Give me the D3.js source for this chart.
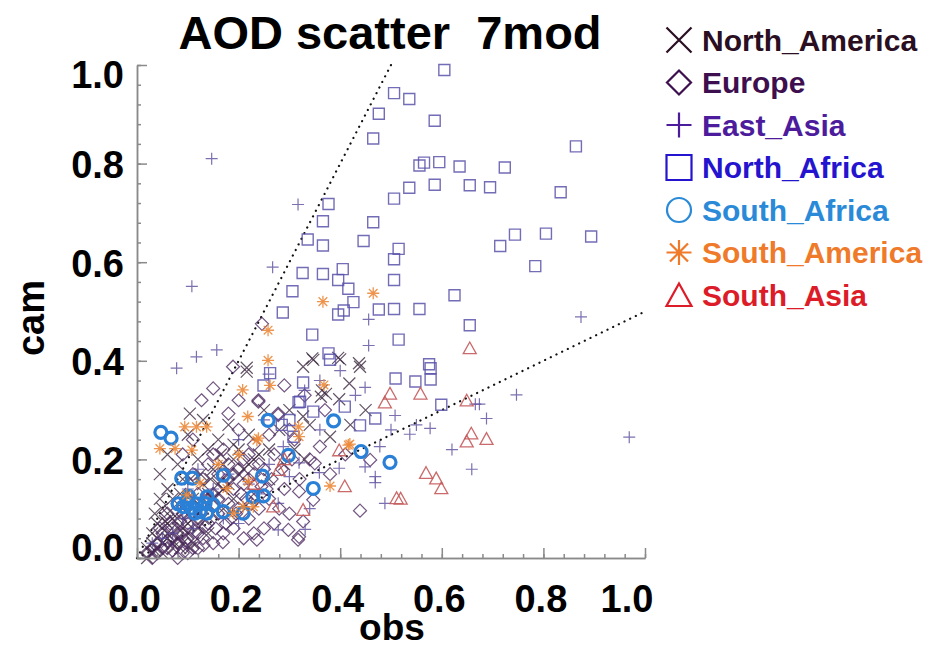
<!DOCTYPE html>
<html>
<head>
<meta charset="utf-8">
<script src="https://cdn.jsdelivr.net/npm/d3@7"></script>
<style>
  html, body { margin: 0; padding: 0; background: #fff; }
  svg { display: block; }
  text { font-family: "Liberation Sans", Arial, Helvetica, sans-serif; font-weight: bold; }
</style>
</head>
<body>
<svg id="chart" width="933" height="650"></svg>
<script>
// Region names in legend order
const regions = ["North_America", "Europe", "East_Asia", "North_Africa", "South_Africa", "South_America", "South_Asia"];

// Paired AOD values per region: [obs, cam]
const northAmerica = [
  [0.400,0.403],[0.439,0.388],[0.418,0.354],[0.398,0.322],[0.362,0.327],[0.347,0.402],[0.327,0.388],
  [0.380,0.246],[0.327,0.287],[0.345,0.405],[0.396,0.406],[0.437,0.395],[0.216,0.386],[0.216,0.378],
  [0.104,0.293],[0.364,0.340],[0.372,0.333],[0.30,0.30],[0.28,0.26],[0.25,0.30],[0.26,0.22],[0.22,0.25],
  [0.20,0.22],[0.18,0.27],[0.16,0.24],[0.14,0.22],[0.12,0.20],[0.10,0.25],[0.13,0.28],[0.08,0.19],
  [0.06,0.14],[0.05,0.10],[0.04,0.07],[0.03,0.05],[0.02,0.02],[0.03,0.01],[0.05,0.03],[0.06,0.05],
  [0.07,0.08],[0.08,0.06],[0.09,0.10],[0.10,0.07],[0.11,0.12],[0.12,0.09],[0.13,0.15],[0.14,0.11],
  [0.15,0.18],[0.16,0.13],[0.17,0.19],[0.18,0.15],[0.19,0.20],[0.20,0.17],[0.22,0.19],[0.24,0.21],
  [0.05,0.01],[0.07,0.02],[0.09,0.03],[0.04,0.04],[0.06,0.07],[0.08,0.04],[0.10,0.05],[0.12,0.06],
  [0.11,0.03],[0.13,0.08],[0.15,0.09],[0.17,0.10],[0.14,0.05],[0.31,0.22],[0.34,0.27],[0.29,0.19],
  [0.26,0.16],[0.23,0.13],[0.19,0.12],[0.33,0.20],[0.45,0.30],[0.42,0.27],[0.07,0.12],[0.09,0.16],
  [0.045,0.17],[0.06,0.21],[0.045,0.12],[0.035,0.09],
  [0.02,0.00],[0.03,0.03],[0.04,0.02],[0.05,0.06],[0.06,0.04],[0.07,0.03],[0.08,0.08],[0.09,0.06],
  [0.10,0.09],[0.11,0.08],[0.12,0.11],[0.13,0.10],[0.14,0.13],[0.15,0.12],[0.16,0.15],[0.17,0.14],
  [0.18,0.17],[0.065,0.095],[0.085,0.13],[0.105,0.16],[0.125,0.17],[0.145,0.16],[0.165,0.21],
  [0.19,0.23],[0.21,0.18],[0.23,0.20],[0.085,0.02],[0.105,0.02],[0.035,0.015],[0.055,0.075]
];
const europe = [
  [0.246,0.475],[0.189,0.388],[0.150,0.344],[0.127,0.320],[0.180,0.293],[0.239,0.317],[0.278,0.290],
  [0.239,0.320],[0.278,0.293],[0.459,0.199],[0.439,0.096],[0.319,0.135],[0.347,0.118],[0.327,0.074],
  [0.298,0.057],[0.319,0.043],[0.360,0.226],[0.350,0.192],[0.236,0.037],[0.317,0.037],[0.169,0.032],
  [0.131,0.026],[0.30,0.26],[0.31,0.24],[0.27,0.21],[0.26,0.25],[0.25,0.18],[0.23,0.23],[0.22,0.16],
  [0.21,0.20],[0.20,0.26],[0.19,0.14],[0.18,0.19],[0.17,0.22],[0.16,0.17],[0.15,0.21],[0.14,0.19],
  [0.13,0.16],[0.12,0.13],[0.11,0.17],[0.10,0.12],[0.09,0.09],[0.08,0.11],[0.07,0.06],[0.06,0.09],
  [0.05,0.05],[0.04,0.03],[0.03,0.02],[0.02,0.01],[0.06,0.02],[0.08,0.03],[0.10,0.04],[0.12,0.05],
  [0.14,0.07],[0.16,0.09],[0.18,0.11],[0.20,0.10],[0.22,0.08],[0.24,0.10],[0.26,0.12],[0.28,0.10],
  [0.27,0.07],[0.25,0.06],[0.23,0.05],[0.21,0.04],[0.19,0.06],[0.17,0.05],[0.15,0.03],[0.13,0.04],
  [0.11,0.02],[0.09,0.01],[0.07,0.015],[0.32,0.16],[0.34,0.20],[0.29,0.14],[0.37,0.30],[0.33,0.33],
  [0.29,0.35],[0.20,0.32],[0.11,0.24],[0.09,0.21],[0.30,0.09],[0.38,0.17],[0.41,0.21],[0.245,0.145],
  [0.215,0.12],[0.185,0.08],
  [0.03,0.00],[0.04,0.01],[0.05,0.02],[0.06,0.035],[0.07,0.04],[0.08,0.05],[0.09,0.05],[0.10,0.07],
  [0.11,0.09],[0.12,0.08],[0.13,0.10],[0.14,0.12],[0.15,0.13],[0.16,0.12],[0.17,0.15],[0.18,0.16],
  [0.19,0.17],[0.20,0.18],[0.21,0.15],[0.22,0.21],[0.23,0.17],[0.24,0.19],[0.08,0.00],[0.10,0.01],
  [0.12,0.02],[0.045,0.06],[0.065,0.07],[0.085,0.075],[0.095,0.035],[0.115,0.055],[0.135,0.065],
  [0.155,0.06],[0.175,0.07],[0.195,0.09],[0.205,0.13],[0.225,0.11],[0.255,0.14],[0.265,0.16],
  [0.285,0.18],[0.305,0.20]
];
const eastAsia = [
  [0.147,0.810],[0.317,0.717],[0.267,0.590],[0.108,0.551],[0.456,0.484],[0.456,0.431],[0.874,0.489],
  [0.117,0.408],[0.157,0.422],[0.078,0.385],[0.449,0.346],[0.747,0.331],[0.674,0.312],[0.666,0.312],
  [0.688,0.283],[0.508,0.289],[0.577,0.263],[0.537,0.251],[0.478,0.226],[0.969,0.245],[0.659,0.180],
  [0.469,0.165],[0.469,0.153],[0.398,0.182],[0.449,0.185],[0.488,0.111],[0.319,0.193],[0.359,0.173],
  [0.259,0.373],[0.288,0.226],[0.300,0.165],[0.278,0.111],[0.278,0.057],[0.331,0.058],[0.20,0.24],
  [0.18,0.17],[0.15,0.14],[0.13,0.12],[0.12,0.18],[0.10,0.14],[0.09,0.08],[0.07,0.05],[0.05,0.04],
  [0.22,0.15],[0.24,0.13],[0.26,0.19],[0.25,0.28],[0.33,0.34],[0.36,0.36],[0.40,0.38],[0.43,0.33],
  [0.50,0.26],[0.55,0.27],[0.62,0.22],[0.17,0.08],[0.11,0.06],[0.20,0.07],[0.36,0.26],[0.34,0.10],
  [0.03,0.03]
];
const northAfrica = [
  [0.605,0.990],[0.506,0.943],[0.536,0.931],[0.476,0.901],[0.586,0.887],[0.465,0.851],[0.864,0.835],
  [0.556,0.796],[0.565,0.802],[0.595,0.803],[0.635,0.794],[0.724,0.792],[0.536,0.751],[0.586,0.757],
  [0.655,0.756],[0.695,0.752],[0.834,0.742],[0.506,0.729],[0.377,0.718],[0.366,0.683],[0.465,0.681],
  [0.336,0.646],[0.366,0.634],[0.446,0.643],[0.515,0.627],[0.506,0.606],[0.715,0.633],[0.744,0.656],
  [0.805,0.658],[0.894,0.652],[0.784,0.592],[0.326,0.578],[0.366,0.576],[0.405,0.586],[0.396,0.564],
  [0.416,0.546],[0.306,0.541],[0.506,0.564],[0.426,0.519],[0.287,0.498],[0.396,0.494],[0.407,0.502],
  [0.476,0.504],[0.506,0.505],[0.556,0.505],[0.625,0.533],[0.655,0.472],[0.345,0.453],[0.515,0.443],
  [0.377,0.415],[0.575,0.393],[0.249,0.350],[0.327,0.356],[0.509,0.364],[0.548,0.358],[0.578,0.385],
  [0.578,0.362],[0.318,0.316],[0.347,0.297],[0.409,0.307],[0.439,0.269],[0.469,0.283],[0.599,0.311],
  [0.321,0.317],[0.308,0.246],[0.285,0.270],[0.380,0.402],[0.262,0.375],[0.300,0.280]
];
const southAfrica = [
  [0.047,0.255],[0.067,0.243],[0.258,0.279],[0.387,0.278],[0.298,0.208],[0.441,0.216],[0.498,0.194],
  [0.088,0.162],[0.109,0.162],[0.170,0.168],[0.247,0.166],[0.347,0.141],[0.228,0.124],[0.249,0.126],
  [0.209,0.091],[0.170,0.094],[0.081,0.110],[0.099,0.111],[0.117,0.110],[0.134,0.111],[0.138,0.124],
  [0.124,0.094],[0.108,0.101],[0.091,0.104],[0.150,0.108],[0.137,0.091],[0.114,0.091],[0.102,0.125]
];
const southAmerica = [
  [0.258,0.462],[0.366,0.520],[0.465,0.537],[0.258,0.401],[0.208,0.341],[0.368,0.351],[0.218,0.287],
  [0.137,0.266],[0.117,0.266],[0.094,0.266],[0.045,0.222],[0.075,0.222],[0.108,0.219],[0.239,0.243],
  [0.318,0.266],[0.416,0.229],[0.380,0.146],[0.219,0.155],[0.177,0.141],[0.098,0.128],[0.209,0.104],
  [0.190,0.091],[0.124,0.152],[0.319,0.246],[0.236,0.239],[0.419,0.231],[0.229,0.104],[0.262,0.350],
  [0.160,0.190],[0.200,0.210]
];
const southAsia = [
  [0.655,0.425],[0.498,0.333],[0.488,0.315],[0.558,0.333],[0.649,0.319],[0.658,0.252],[0.649,0.236],
  [0.688,0.241],[0.569,0.172],[0.589,0.161],[0.599,0.141],[0.519,0.120],[0.409,0.145],[0.398,0.218],
  [0.279,0.178],[0.327,0.097],[0.268,0.104],[0.511,0.121],[0.290,0.200],[0.230,0.150]
];

const seriesData = [northAmerica, europe, eastAsia, northAfrica, southAfrica, southAmerica, southAsia];

// Axis ticks
const majorTicks = [0, 0.2, 0.4, 0.6, 0.8, 1.0];
const tickLabels = ["0.0", "0.2", "0.4", "0.6", "0.8", "1.0"];
const minorTicks = d3.range(0, 26).map(i => i * 0.04);

// Reference lines (cam = 2*obs and cam = 0.5*obs)
const refSlopes = [2, 0.5];

// Styling
const markerTypes = ["cross", "diamond", "plus", "square", "circle", "asterisk", "triangle"];
const markerColors = ["#3c2840", "#4e2a62", "#5b4c9c", "#5a52aa", "#2a80d6", "#ec8838", "#c45a5a"];
const legendColors = ["#2a0e22", "#3e0f4e", "#4c1c9c", "#2414d0", "#2a8ad8", "#ef7a2a", "#dc1c28"];

const svg = d3.select("#chart");
const x = d3.scaleLinear().domain([0, 1]).range([137, 645]);
const y = d3.scaleLinear().domain([0, 1]).range([558, 65]);

function markerPath(type, s) {
  switch (type) {
    case "cross": return `M${-s},${-s}L${s},${s}M${-s},${s}L${s},${-s}`;
    case "diamond": return `M0,${-s}L${s},0L0,${s}L${-s},0Z`;
    case "plus": return `M${-s},0H${s}M0,${-s}V${s}`;
    case "square": return `M${-s},${-s}H${s}V${s}H${-s}Z`;
    case "circle": return `M${s},0A${s},${s} 0 1,1 ${-s},0A${s},${s} 0 1,1 ${s},0Z`;
    case "asterisk": {
      const d = s * 0.72;
      return `M${-s},0H${s}M0,${-s}V${s}M${-d},${-d}L${d},${d}M${-d},${d}L${d},${-d}`;
    }
    case "triangle": return `M0,${-s}L${s},${s * 0.8}L${-s},${s * 0.8}Z`;
  }
}

const plotSize = { cross: 6, diamond: 6.5, plus: 6, square: 5.5, circle: 6, asterisk: 6, triangle: 6.5 };
const plotWidth = { cross: 1.2, diamond: 1.2, plus: 1.2, square: 1.4, circle: 3.2, asterisk: 1.3, triangle: 1.3 };
const plotOpacity = { cross: 0.8, diamond: 0.8, plus: 0.8, square: 0.85, circle: 1, asterisk: 0.9, triangle: 0.9 };

// Dotted reference lines
const line = d3.line().x(d => x(d[0])).y(d => y(d[1]));
refSlopes.forEach(k => {
  const xEnd = Math.min(1, 1 / k);
  svg.append("path")
    .attr("d", line([[0, 0], [xEnd, k * xEnd]]))
    .attr("fill", "none")
    .attr("stroke", "#111")
    .attr("stroke-width", 2.2)
    .attr("stroke-linecap", "round")
    .attr("stroke-dasharray", "0.1 6.2");
});

// Scatter markers
const plot = svg.append("g");
seriesData.forEach((pts, i) => {
  const type = markerTypes[i];
  plot.append("g")
    .selectAll("path")
    .data(pts)
    .join("path")
    .attr("transform", d => `translate(${x(d[0])},${y(d[1])})`)
    .attr("d", markerPath(type, plotSize[type]))
    .attr("fill", "none")
    .attr("stroke", markerColors[i])
    .attr("stroke-width", plotWidth[type])
    .attr("stroke-opacity", plotOpacity[type]);
});

// Axes with inward ticks
const axisColor = "#8a8a8a";
function styleAxis(g) {
  g.selectAll("path.domain").attr("stroke", axisColor).attr("stroke-width", 1.5);
  g.selectAll(".tick line").attr("stroke", axisColor).attr("stroke-width", 1.5);
  g.selectAll(".tick text").remove();
}
svg.append("g").attr("transform", "translate(0,558)")
  .call(d3.axisBottom(x).tickValues(minorTicks).tickSize(-4).tickSizeOuter(0).tickFormat(""))
  .call(styleAxis);
svg.append("g").attr("transform", "translate(0,558)")
  .call(d3.axisBottom(x).tickValues(majorTicks).tickSize(-10).tickSizeOuter(0).tickFormat(""))
  .call(styleAxis);
svg.append("g").attr("transform", "translate(137,0)")
  .call(d3.axisLeft(y).tickValues(minorTicks).tickSize(-4).tickSizeOuter(0).tickFormat(""))
  .call(styleAxis);
svg.append("g").attr("transform", "translate(137,0)")
  .call(d3.axisLeft(y).tickValues(majorTicks).tickSize(-10).tickSizeOuter(0).tickFormat(""))
  .call(styleAxis);

// Tick labels
svg.append("g").selectAll("text")
  .data(majorTicks)
  .join("text")
  .attr("x", d => Math.min(x(d) - 2.5, 627))
  .attr("y", 612)
  .attr("text-anchor", "middle")
  .attr("font-size", 38)
  .attr("fill", "#000")
  .text((d, i) => tickLabels[i]);

svg.append("g").selectAll("text")
  .data(majorTicks)
  .join("text")
  .attr("x", 124)
  .attr("y", d => Math.max(74, Math.min(547, y(d) + 1)))
  .attr("dy", "0.36em")
  .attr("text-anchor", "end")
  .attr("font-size", 38)
  .attr("fill", "#000")
  .text((d, i) => tickLabels[i]);

// Title and axis titles
svg.append("text")
  .attr("x", 390).attr("y", 49)
  .attr("text-anchor", "middle")
  .attr("font-size", 47)
  .style("white-space", "pre")
  .text("AOD scatter  7mod");

svg.append("text")
  .attr("x", 392).attr("y", 640)
  .attr("text-anchor", "middle")
  .attr("font-size", 37)
  .text("obs");

svg.append("text")
  .attr("transform", "translate(44,318) rotate(-90)")
  .attr("text-anchor", "middle")
  .attr("font-size", 38)
  .text("cam");

// Legend
const legend = svg.append("g");
regions.forEach((name, i) => {
  const cy = 40 + 42.5 * i;
  const type = markerTypes[i];
  const s = type === "circle" ? 12 : (type === "diamond" ? 12 : 12.5);
  legend.append("path")
    .attr("transform", `translate(679,${cy + (type === "triangle" ? 1 : 0)})`)
    .attr("d", markerPath(type, s))
    .attr("fill", "none")
    .attr("stroke", legendColors[i])
    .attr("stroke-width", 2.2);
  legend.append("text")
    .attr("x", 702).attr("y", cy)
    .attr("dy", "0.36em")
    .attr("font-size", 30)
    .attr("fill", legendColors[i])
    .text(name);
});
</script>
</body>
</html>
